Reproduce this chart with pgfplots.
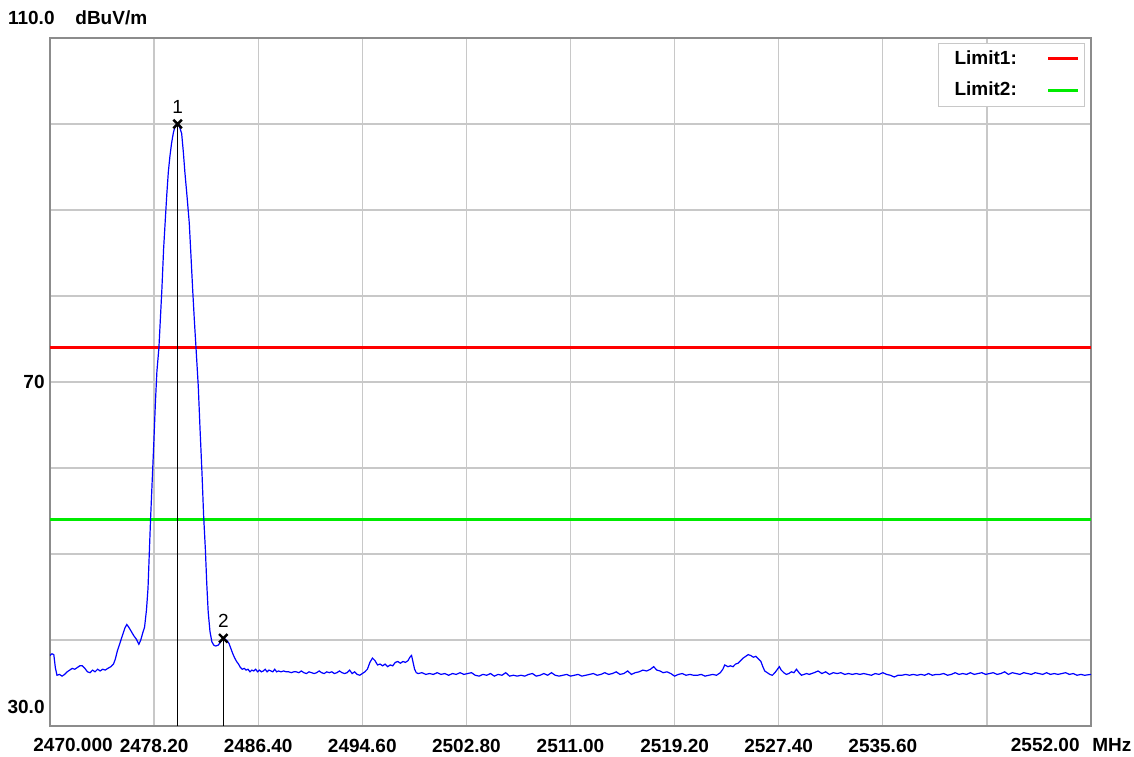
\documentclass[border=0pt]{standalone}
\usepackage{pgfplots}
\pgfplotsset{compat=1.18}
\usepackage{fontspec}
\setmainfont{Liberation Sans}
\definecolor{gridc}{RGB}{200,200,200}
\definecolor{framec}{RGB}{140,140,140}
\definecolor{limred}{RGB}{255,0,0}
\definecolor{limgreen}{RGB}{0,235,0}
\definecolor{trace}{RGB}{0,0,255}
\newcommand{\lf}{\fontsize{9.5}{11}\selectfont\bfseries}
\begin{document}
\begin{tikzpicture}
\useasboundingbox (-25pt,-15pt) rectangle (542pt,363pt);
\begin{axis}[
  at={(0,0)}, anchor=south west,
  scale only axis, width=520.5pt, height=344pt,
  xmin=2470, xmax=2552, ymin=30, ymax=110,
  clip mode=individual,
  xtick={2470,2478.2,2486.4,2494.6,2502.8,2511,2519.2,2527.4,2535.6,2543.8,2552},
  xticklabels={,2478.20,2486.40,2494.60,2502.80,2511.00,2519.20,2527.40,2535.60,,},
  ytick={30,40,50,60,70,80,90,100,110},
  yticklabels={},
  major tick length=0pt,
  grid=major,
  grid style={gridc, line width=0.6pt},
  axis line style={framec, line width=1.2pt},
  xticklabel style={font=\lf, yshift=-3pt},
  legend style={at={(rel axis cs:1,1)}, anchor=north east, xshift=-3pt, yshift=-2.5pt,
    draw=gridc, fill=white, font=\lf, inner xsep=2.5pt, inner ysep=1.5pt, row sep=3.5pt},
  legend cell align=left,
  legend plot pos=right,
  legend image code/.code={\draw[#1] (0pt,0pt) -- (15pt,0pt);},
]
\addplot[limred, line width=1.5pt] coordinates {(2470,74) (2552,74)};
\addlegendentry{\hspace*{3.5pt}\makebox[44pt][l]{Limit1:}}
\addplot[limgreen, line width=1.5pt] coordinates {(2470,54) (2552,54)};
\addlegendentry{\hspace*{3.5pt}\makebox[44pt][l]{Limit2:}}
\addplot[trace, line width=0.6pt, forget plot] table {
x y
2470.00 38.2
2470.15 38.4
2470.30 38.3
2470.42 36.8
2470.55 35.9
2470.75 36.0
2470.95 35.8
2471.15 36.0
2471.35 36.3
2471.55 36.5
2471.75 36.7
2471.95 36.6
2472.15 36.8
2472.35 37.0
2472.55 37.0
2472.75 36.7
2472.95 36.3
2473.15 36.2
2473.35 36.5
2473.55 36.3
2473.75 36.6
2473.95 36.4
2474.15 36.6
2474.35 36.5
2474.55 36.7
2474.80 36.9
2475.00 37.2
2475.15 37.8
2475.30 38.7
2475.50 39.6
2475.70 40.5
2475.90 41.4
2476.05 41.8
2476.20 41.5
2476.40 41.0
2476.60 40.5
2476.80 40.1
2477.00 39.5
2477.15 40.0
2477.30 40.8
2477.45 41.5
2477.60 43.5
2477.72 46.0
2477.82 50.0
2477.92 54.0
2478.05 58.5
2478.18 63.0
2478.30 67.5
2478.42 71.2
2478.58 74.0
2478.70 77.5
2478.82 81.0
2478.95 85.5
2479.08 88.8
2479.20 91.8
2479.32 94.4
2479.45 96.3
2479.58 97.8
2479.72 99.0
2479.85 99.7
2480.00 100.0
2480.10 100.0
2480.22 99.6
2480.37 98.9
2480.50 96.8
2480.63 94.3
2480.80 91.5
2480.97 88.5
2481.10 84.8
2481.24 80.7
2481.37 77.2
2481.50 74.0
2481.68 69.5
2481.82 64.5
2481.97 59.5
2482.10 54.5
2482.24 50.5
2482.35 46.5
2482.46 43.3
2482.60 41.0
2482.75 39.8
2482.90 39.4
2483.05 39.3
2483.25 39.4
2483.40 39.7
2483.55 40.0
2483.65 40.2
2483.80 40.1
2483.95 39.9
2484.10 39.6
2484.25 39.0
2484.40 38.4
2484.55 37.9
2484.70 37.5
2484.85 37.2
2485.00 36.8
2485.15 36.6
2485.30 36.7
2485.45 36.5
2485.60 36.6
2485.75 36.3
2485.90 36.5
2486.05 36.4
2486.20 36.6
2486.35 36.3
2486.50 36.5
2486.65 36.3
2486.80 36.4
2486.95 36.6
2487.10 36.3
2487.25 36.5
2487.40 36.4
2487.55 36.3
2487.70 36.6
2487.85 36.3
2488.00 36.4
2488.20 36.3
2488.40 36.4
2488.60 36.3
2488.80 36.3
2489.00 36.2
2489.20 36.3
2489.40 36.3
2489.60 36.2
2489.80 36.4
2490.00 36.2
2490.20 36.1
2490.40 36.3
2490.60 36.2
2490.80 36.1
2491.00 36.2
2491.20 36.4
2491.40 36.2
2491.60 36.1
2491.80 36.3
2492.00 36.2
2492.20 36.3
2492.40 36.1
2492.60 36.2
2492.80 36.4
2493.00 36.2
2493.20 36.1
2493.40 36.2
2493.60 36.5
2493.80 36.1
2494.00 36.3
2494.20 36.0
2494.40 35.9
2494.60 36.1
2494.80 36.3
2495.00 36.6
2495.20 37.4
2495.40 37.9
2495.60 37.6
2495.80 37.1
2496.00 37.2
2496.20 37.0
2496.40 37.2
2496.60 36.9
2496.80 37.1
2497.00 37.0
2497.20 37.4
2497.40 37.5
2497.60 37.3
2497.80 37.5
2498.00 37.4
2498.20 37.6
2498.35 38.0
2498.48 38.2
2498.60 37.4
2498.72 36.6
2498.85 36.2
2499.00 36.1
2499.30 36.2
2499.60 36.0
2499.90 36.1
2500.20 36.0
2500.50 36.2
2500.80 36.0
2501.10 36.1
2501.40 35.9
2501.70 36.1
2502.00 36.0
2502.30 36.2
2502.60 36.0
2502.90 36.1
2503.20 36.2
2503.50 35.9
2503.80 35.8
2504.10 36.0
2504.40 35.9
2504.70 36.1
2505.00 35.8
2505.30 36.0
2505.60 35.9
2505.90 36.2
2506.20 35.8
2506.50 35.9
2506.80 35.8
2507.10 35.9
2507.40 35.8
2507.70 36.0
2508.00 36.1
2508.30 35.8
2508.60 35.9
2508.90 36.1
2509.20 35.9
2509.50 36.2
2509.80 35.9
2510.10 35.8
2510.40 35.9
2510.70 36.0
2511.00 35.8
2511.30 35.9
2511.60 36.0
2511.90 35.8
2512.20 35.9
2512.50 36.0
2512.80 36.1
2513.10 35.9
2513.40 36.0
2513.70 36.2
2514.00 36.0
2514.30 36.1
2514.60 36.3
2514.90 36.0
2515.20 36.1
2515.50 36.4
2515.80 36.0
2516.10 36.2
2516.40 36.3
2516.70 36.5
2517.00 36.4
2517.30 36.6
2517.55 36.9
2517.80 36.5
2518.05 36.4
2518.30 36.2
2518.60 36.3
2518.90 36.1
2519.20 35.8
2519.50 36.0
2519.80 36.1
2520.10 35.9
2520.40 36.0
2520.70 35.9
2521.00 35.9
2521.30 36.0
2521.60 35.8
2521.90 35.9
2522.20 36.0
2522.50 35.9
2522.80 36.2
2523.00 36.6
2523.15 37.1
2523.40 36.9
2523.60 37.0
2523.80 36.9
2524.00 37.2
2524.20 37.3
2524.40 37.6
2524.60 37.9
2524.80 38.1
2525.00 38.3
2525.20 38.2
2525.40 38.0
2525.60 38.1
2525.80 37.8
2526.00 37.5
2526.15 36.9
2526.30 36.4
2526.50 36.2
2526.70 36.0
2526.90 35.9
2527.10 36.2
2527.30 36.6
2527.45 36.9
2527.60 36.5
2527.80 36.2
2528.00 36.0
2528.20 36.1
2528.40 36.3
2528.60 36.2
2528.80 36.6
2529.00 36.2
2529.20 35.9
2529.40 36.0
2529.60 36.1
2529.80 36.0
2530.00 36.1
2530.20 36.2
2530.50 36.4
2530.80 36.1
2531.10 36.3
2531.40 36.0
2531.70 36.2
2532.00 36.1
2532.30 36.2
2532.60 36.0
2532.90 36.1
2533.20 36.0
2533.50 36.1
2533.80 36.0
2534.10 36.1
2534.40 36.0
2534.70 35.9
2535.00 36.1
2535.30 36.0
2535.60 36.2
2535.90 36.0
2536.20 35.9
2536.50 35.7
2536.80 35.9
2537.10 35.9
2537.40 36.0
2537.70 35.9
2538.00 36.0
2538.30 35.9
2538.60 36.0
2538.90 35.9
2539.20 36.1
2539.50 35.9
2539.80 36.0
2540.10 36.0
2540.40 36.1
2540.70 35.9
2541.00 36.0
2541.30 36.2
2541.60 36.0
2541.90 36.1
2542.20 36.0
2542.50 36.2
2542.80 36.0
2543.10 36.1
2543.40 36.2
2543.70 36.0
2544.00 36.1
2544.30 36.2
2544.60 36.0
2544.90 36.1
2545.20 36.3
2545.50 36.0
2545.80 36.2
2546.10 36.1
2546.40 36.0
2546.70 36.2
2547.00 36.1
2547.30 36.0
2547.60 36.2
2547.90 36.1
2548.20 36.0
2548.50 36.2
2548.80 36.0
2549.10 36.1
2549.40 36.0
2549.70 36.1
2550.00 36.2
2550.30 36.0
2550.60 36.1
2550.90 35.9
2551.20 36.0
2551.50 35.9
2552.00 36.0
};
% marker lines
\addplot[black, line width=0.5pt, forget plot] coordinates {(2480.05,30) (2480.05,100)};
\addplot[black, line width=0.5pt, forget plot] coordinates {(2483.65,30) (2483.65,40.2)};
\addplot[black, only marks, mark=x, mark size=3pt, mark options={line width=1.2pt}, forget plot]
  coordinates {(2480.05,100) (2483.65,40.2)};
\node[font=\fontsize{9.5}{11}\selectfont, anchor=south, inner sep=0pt] at (axis cs:2480.05,100) [yshift=5pt] {1};
\node[font=\fontsize{9.5}{11}\selectfont, anchor=south, inner sep=0pt] at (axis cs:2483.65,40.2) [yshift=5pt] {2};
% axis texts
\node[font=\lf, anchor=east, inner sep=0pt] at (rel axis cs:0,1) [xshift=2.5pt, yshift=10pt] {110.0};
\node[font=\lf, anchor=west, inner sep=0pt] at (rel axis cs:0,1) [xshift=12.5pt, yshift=10pt] {dBuV/m};
\node[font=\lf, anchor=east, inner sep=0pt] at (axis cs:2470,70) [xshift=-2.5pt] {70};
\node[font=\lf, anchor=east, inner sep=0pt] at (axis cs:2470,30) [xshift=-2.5pt, yshift=9.5pt] {30.0};
\node[font=\lf, anchor=west, inner sep=0pt] at (axis cs:2470,30) [xshift=-8.5pt, yshift=-9.5pt] {2470.000};
\node[font=\lf, anchor=east, inner sep=0pt] at (axis cs:2552,30) [xshift=-5.5pt, yshift=-9.5pt] {2552.00};
\node[font=\lf, anchor=west, inner sep=0pt] at (axis cs:2552,30) [xshift=0.5pt, yshift=-9.5pt] {MHz};
\end{axis}
\end{tikzpicture}
\end{document}
